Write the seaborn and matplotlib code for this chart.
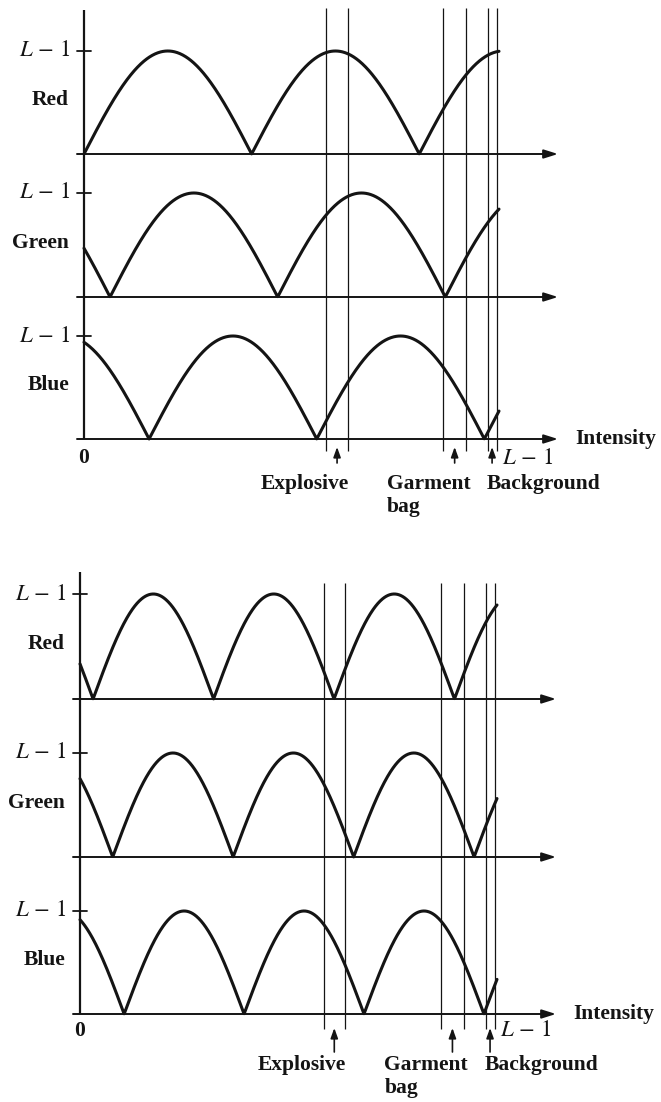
import numpy as np
import pandas as pd
import seaborn as sns
import matplotlib
matplotlib.use("Agg")
import matplotlib.pyplot as plt

sns.set_theme(style="white")
plt.rcParams["font.family"] = ["Liberation Serif", "DejaVu Serif"]
plt.rcParams["mathtext.fontset"] = "stix"

INK = "#141414"
L_MAX = 255
CHANNELS = ["Red", "Green", "Blue"]

# Zero crossings (intensity units) of the |sin| colour transforms
TOP_ZEROS = {
    "Red": [0, 103, 206],
    "Green": [16, 119, 222],
    "Blue": [40, 143, 246],
}
BOTTOM_ZEROS = {
    "Red": [8, 81, 156, 229],
    "Green": [20, 93, 166, 241],
    "Blue": [27, 101, 174, 247],
}

# Intensity bands of the materials of interest
BAND_NAMES = ["Explosive", "Garment\nbag", "Background"]
BAND_LO = [149, 220.5, 248]
BAND_HI = [162, 235, 253.5]

# Pixel geometry of the two stacked diagrams
LAYOUTS = [
    dict(zeros=TOP_ZEROS, x0=84, x1=499,
         rows=[(51, 154), (193, 297), (336, 439)],
         axis_top=10, vline=(8, 451), tip=558, arrow=(8, 24),
         label_dy=45, line_dy=23, end_dy=19),
    dict(zeros=BOTTOM_ZEROS, x0=80, x1=497,
         rows=[(594, 699), (753, 857), (911, 1014)],
         axis_top=572, vline=(583, 1029), tip=556, arrow=(14, 38),
         label_dy=51, line_dy=23, end_dy=17),
]
# label anchor: (horizontal alignment, pixel offset from band centre)
LABEL_ANCHOR = [("right", 12), ("left", -68), ("left", -5)]

W, H = 661, 1102
FS = 15.5


def px_axes(fig, left, right, top, bottom):
    ax = fig.add_axes([left / W, 1 - bottom / H, (right - left) / W, (bottom - top) / H])
    ax.set_xlim(0, L_MAX)
    ax.axis("off")
    return ax


def transform(zeros, x):
    half = np.mean(np.diff(zeros))
    return L_MAX * np.abs(np.sin(np.pi * (x - zeros[0]) / half))


fig = plt.figure(figsize=(W / 100, H / 100), dpi=100)
fig.patch.set_facecolor("white")

for lay in LAYOUTS:
    x0, x1 = lay["x0"], lay["x1"]
    sx = (x1 - x0) / L_MAX
    tip = (lay["tip"] - x0) / sx

    # overlay: intensity axis, vertical band boundaries
    ov = px_axes(fig, x0, x1, lay["vline"][0], lay["vline"][1])
    ov.set_ylim(lay["vline"][1], lay["vline"][0])
    ov.vlines(BAND_LO + BAND_HI, lay["vline"][0], lay["vline"][1],
              color=INK, lw=0.9, clip_on=False)
    ov.plot([0, 0], [lay["rows"][-1][1], lay["axis_top"]], color=INK, lw=1.6,
            clip_on=False, solid_capstyle="butt")

    for (top, base), ch in zip(lay["rows"], CHANNELS):
        ax = px_axes(fig, x0, x1, top, base)
        ax.set_ylim(0, L_MAX)
        sy = (base - top) / L_MAX
        xs = np.linspace(0, L_MAX, 900)
        df = pd.DataFrame({"intensity": xs, "level": transform(lay["zeros"][ch], xs)})
        sns.lineplot(data=df, x="intensity", y="level", ax=ax, color=INK, lw=2.2,
                     estimator=None, sort=False)
        for ln in ax.lines:
            ln.set_clip_on(False)
        ax.axis("off")

        # baseline with arrow
        ax.annotate("", xy=(tip, 0), xytext=(-7 / sx, 0), annotation_clip=False,
                    arrowprops=dict(arrowstyle="-|>,head_length=0.7,head_width=0.22",
                                    color=INK, lw=1.4, shrinkA=0, shrinkB=0))
        # L-1 tick and labels
        ax.plot([-7 / sx, 7 / sx], [L_MAX, L_MAX], color=INK, lw=1.3, clip_on=False)
        ax.text(-13 / sx, L_MAX, r"$L\,-\,1$", ha="right", va="center",
                fontsize=16.5, color=INK)
        ax.text(-15 / sx, 0.52 * L_MAX, ch, ha="right", va="center",
                fontsize=FS, fontweight="bold", color=INK)

    # bottom labels on the Blue panel
    sy = (base - top) / L_MAX
    ax.text(0, -lay["end_dy"] / sy, "0", ha="center", va="center",
            fontsize=FS, fontweight="bold", color=INK)
    ax.text(L_MAX + 3 / sx, -lay["end_dy"] / sy, r"$L\,-\,1$", ha="left",
            va="center", fontsize=16.5, color=INK)
    ax.text(tip + 17 / sx, 0, "Intensity", ha="left", va="center",
            fontsize=FS, fontweight="bold", color=INK)

    for name, lo, hi, (ha, off) in zip(BAND_NAMES, BAND_LO, BAND_HI, LABEL_ANCHOR):
        mid = (lo + hi) / 2
        ax.annotate("", xy=(mid, -lay["arrow"][0] / sy), xytext=(mid, -lay["arrow"][1] / sy),
                    annotation_clip=False,
                    arrowprops=dict(arrowstyle="-|>,head_length=0.5,head_width=0.18",
                                    color=INK, lw=1.2, shrinkA=0, shrinkB=0))
        for i, part in enumerate(name.split("\n")):
            ax.text(mid + off / sx, -(lay["label_dy"] + i * lay["line_dy"]) / sy, part,
                    ha=ha, va="center", fontsize=FS, fontweight="bold", color=INK)

fig.savefig("out.png", dpi=100, facecolor="white")
